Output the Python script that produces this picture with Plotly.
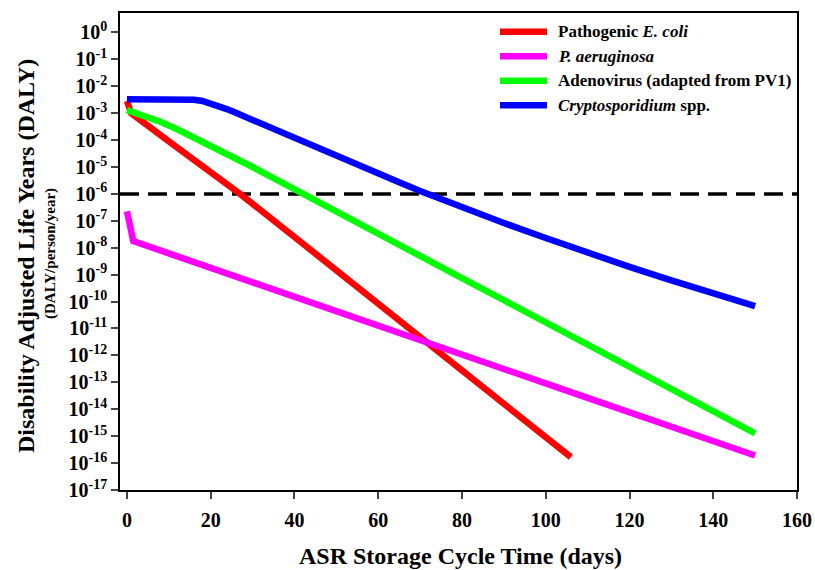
import plotly.graph_objects as go

# ---- data ----
ecoli_x = [0, 0.5, 1, 10, 20, 27, 40, 55.6, 70.7, 80, 90, 100, 106]
ecoli_log = [-2.55, -2.85, -3.0, -4.05, -5.2, -6.0, -7.6, -9.52, -11.44, -12.58, -13.8, -15.03, -15.78]

paer_x = [0, 1.5, 10, 20, 30, 40, 50, 60, 70, 80, 90, 100, 110, 120, 130, 140, 150]
paer_log = [-6.65, -7.75, -8.21, -8.74, -9.28, -9.82, -10.35, -10.89, -11.43, -11.97,
            -12.50, -13.04, -13.58, -14.11, -14.65, -15.19, -15.72]

adeno_x = [0, 4, 8, 12, 16, 20, 25, 30, 35, 40, 50, 60, 70, 80, 90, 100, 110, 120, 130, 140, 150]
adeno_log = [-2.89, -3.08, -3.32, -3.6, -3.9, -4.2, -4.6, -5.0, -5.41, -5.83, -6.655, -7.48,
             -8.3, -9.13, -9.95, -10.78, -11.6, -12.43, -13.25, -14.08, -14.9]

crypto_x = [0, 5, 10, 14, 16, 18, 20, 22, 24, 26, 28, 30, 35, 40, 45, 50, 55, 60, 65, 70, 75, 80,
            90, 100, 110, 120, 130, 140, 150]
crypto_log = [-2.48, -2.48, -2.48, -2.485, -2.50, -2.55, -2.635, -2.74, -2.86, -2.99, -3.125, -3.26,
              -3.6, -3.93, -4.26, -4.59, -4.92, -5.25, -5.57, -5.89, -6.2, -6.5, -7.08, -7.64,
              -8.19, -8.71, -9.21, -9.7, -10.17]

threshold = 1e-6
x_range = [-1.67, 160]
y_exponents = list(range(0, -18, -1))
x_ticks = [0, 20, 40, 60, 80, 100, 120, 140, 160]

names = ["Pathogenic <i>E. coli</i>", "<i>P. aeruginosa</i>",
         "Adenovirus (adapted from PV1)", "<i>Cryptosporidium</i> spp."]
colors = ["#ff0000", "#ff00ff", "#00ff00", "#0000ff"]

FONT = "Liberation Serif, Times New Roman, serif"

# page geometry (body margin removed via post_script)
W, H = 815, 570
# plot area on the page: x 120..797, y 13..490
L, R, T, B = 120, W - 797, 13, H - 490
PW, PH = W - L - R, H - T - B


def px_x(p):
    return (p - L) / PW


def px_y(p):
    return (H - B - p) / PH


fig = go.Figure()

# threshold dashed line
fig.add_trace(go.Scatter(x=x_range, y=[threshold, threshold], mode="lines",
                         line=dict(color="black", width=3.5, dash="19px,9px"),
                         showlegend=False, hoverinfo="skip"))

series = [(ecoli_x, ecoli_log), (paer_x, paer_log), (adeno_x, adeno_log), (crypto_x, crypto_log)]
for (xs, ls), name, c in zip(series, names, colors):
    fig.add_trace(go.Scatter(x=xs, y=[10 ** v for v in ls], mode="lines", name=name,
                             line=dict(color=c, width=6.5), showlegend=False))

fig.update_layout(
    width=W, height=H,
    margin=dict(l=L, r=R, t=T, b=B, autoexpand=False),
    paper_bgcolor="white", plot_bgcolor="white",
    font=dict(family=FONT, color="black", size=18, weight="bold"),
    showlegend=False,
)

fig.update_xaxes(range=x_range, tickvals=x_ticks, ticks="outside", ticklen=7, tickwidth=1.5,
                 showline=True, linecolor="black", linewidth=1.5, mirror=True,
                 showgrid=False, zeroline=False, automargin=False, ticklabelstandoff=4,
                 tickfont=dict(size=20, family=FONT, weight="bold"))
fig.update_yaxes(type="log", range=[-17.0, 0.72],
                 tickvals=[10 ** e for e in y_exponents],
                 ticktext=[f"10<sup>{e}</sup>" for e in y_exponents],
                 ticks="outside", ticklen=7, tickwidth=1.5,
                 showline=True, linecolor="black", linewidth=1.5, mirror=True,
                 showgrid=False, zeroline=False, automargin=False,
                 tickfont=dict(size=20, family=FONT, weight="bold"))

# manual legend
leg_rows = [31.7, 56.2, 80.7, 105.2]
for name, c, ry in zip(names, colors, leg_rows):
    fig.add_shape(type="line", xref="paper", yref="paper",
                  x0=px_x(500), x1=px_x(547), y0=px_y(ry), y1=px_y(ry),
                  line=dict(color=c, width=6.5))
    fig.add_annotation(text=name, xref="paper", yref="paper", x=px_x(556), y=px_y(ry),
                       xanchor="left", yanchor="middle", showarrow=False,
                       font=dict(size=17, family=FONT, weight="bold"))

fig.add_annotation(text="ASR Storage Cycle Time (days)", xref="paper", yref="paper",
                   x=px_x(460), y=px_y(556), xanchor="center", yanchor="middle", showarrow=False,
                   font=dict(size=24, family=FONT, weight="bold"))
fig.add_annotation(text="Disability Adjusted Life Years (DALY)", xref="paper", yref="paper",
                   x=px_x(26), y=px_y(256), xanchor="center", yanchor="middle", showarrow=False,
                   textangle=-90, font=dict(size=24, family=FONT, weight="bold"))
fig.add_annotation(text="(DALY/person/year)", xref="paper", yref="paper",
                   x=px_x(50), y=px_y(254), xanchor="center", yanchor="middle", showarrow=False,
                   textangle=-90, font=dict(size=15, family=FONT, weight="bold"))

fig.write_html("out.html", config={"displayModeBar": False},
               post_script="document.body.style.margin='0px';")
